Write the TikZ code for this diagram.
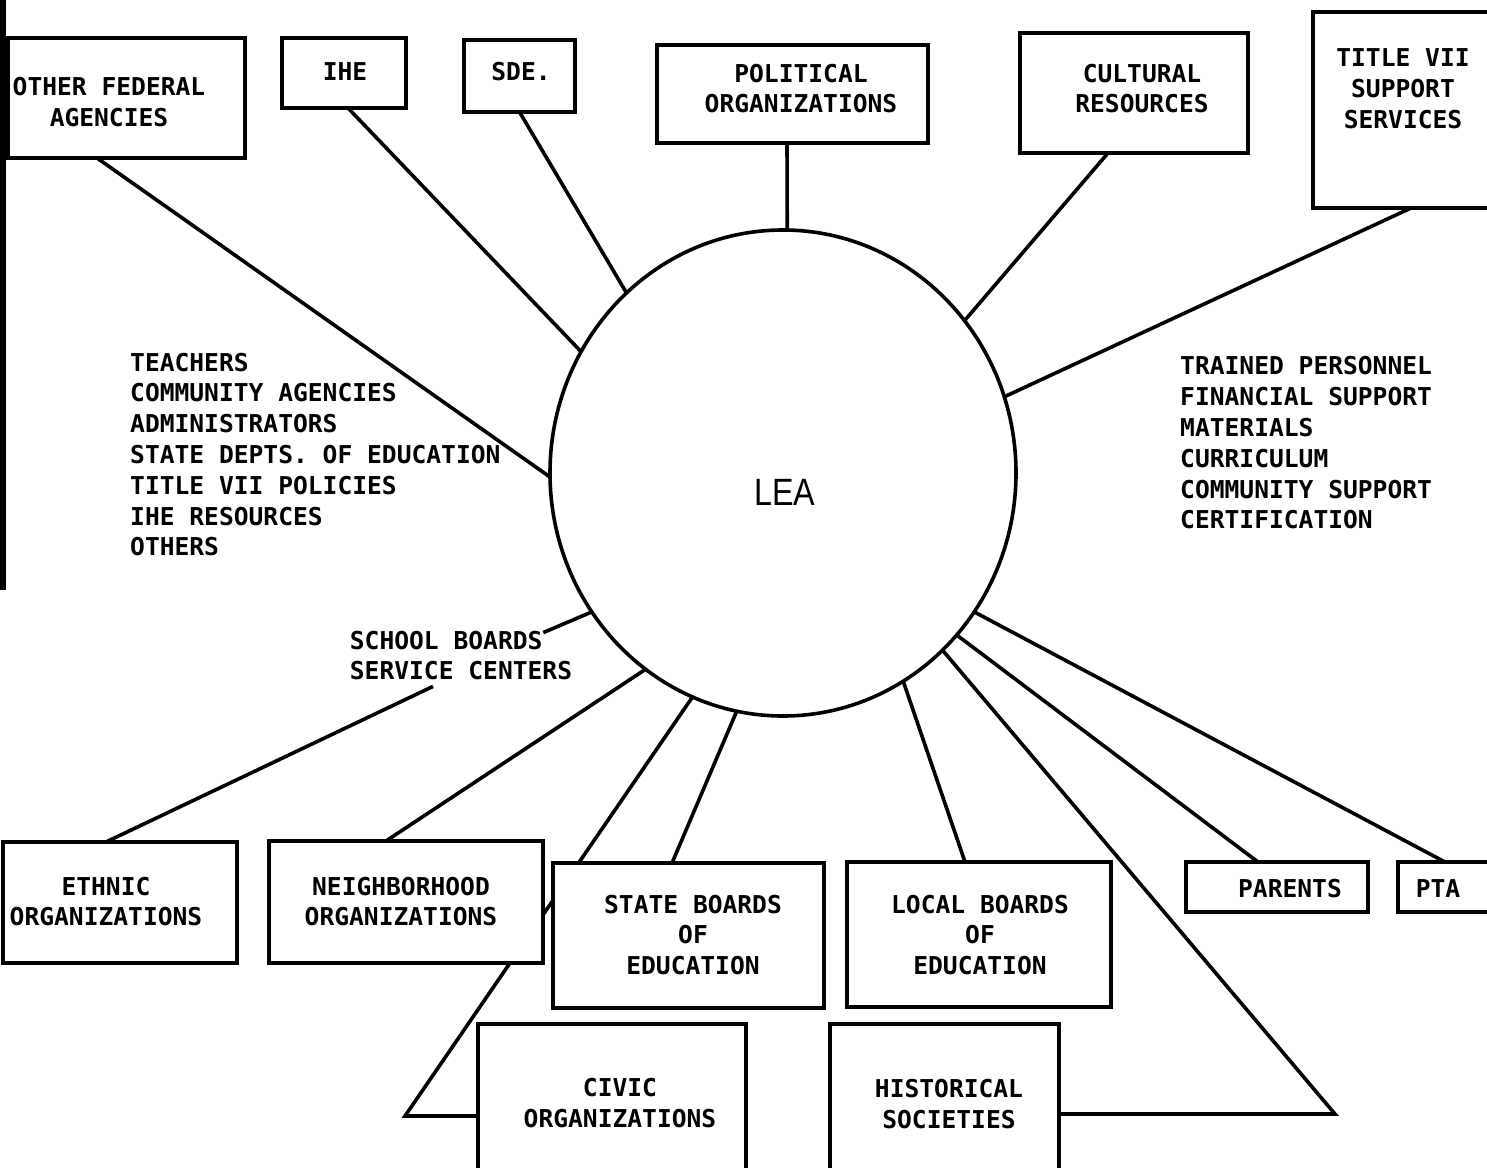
\documentclass[tikz,border=0pt]{standalone}
\usepackage{fontspec}
\usetikzlibrary{shapes.geometric}
\newfontfamily\tw{DejaVu Sans Mono}
\newfontfamily\leafont[FakeStretch=0.85]{Liberation Sans}
\begin{document}
\begin{tikzpicture}[x=1pt,y=-1pt,
  box/.style={draw, line width=3.6pt, fill=white, inner sep=0pt, outer sep=0pt, rectangle},
  conn/.style={line width=3.6pt},
  tt/.style={font=\tw\bfseries\fontsize{24.6}{30.8}\selectfont, inner sep=0pt, align=center, text=black},
  ttl/.style={tt, align=left}]
\useasboundingbox (0,0) rectangle (1487,1167);
\fill[white] (0,0) rectangle (1487,1167);
\clip (0,0) rectangle (1487,1167);
\fill[black] (0,0) rectangle (6,590);

% central ellipse
\node[draw, ellipse, line width=3.6pt, minimum width=466pt, minimum height=486pt, inner sep=0pt, outer sep=0pt] (lea) at (783,473) {};

% boxes
\node[box, minimum width=237pt, minimum height=120pt] (fed) at (126.5,98) {};
\node[box, minimum width=124pt, minimum height=70pt] (ihe) at (344,73) {};
\node[box, minimum width=111pt, minimum height=72pt] (sde) at (519.5,76) {};
\node[box, minimum width=271pt, minimum height=98pt] (pol) at (792.5,94) {};
\node[box, minimum width=228pt, minimum height=120pt] (cul) at (1134,93) {};
\node[box, minimum width=187pt, minimum height=196pt] (t7) at (1406.5,110) {};
\node[box, minimum width=234pt, minimum height=121pt] (eth) at (120,902.5) {};
\node[box, minimum width=274pt, minimum height=122pt] (nbh) at (406,902) {};
\node[box, minimum width=271pt, minimum height=145pt] (stb) at (688.5,935.5) {};
\node[box, minimum width=264pt, minimum height=145pt] (lob) at (979,934.5) {};
\node[box, minimum width=182pt, minimum height=50pt] (par) at (1277,887) {};
\node[box, minimum width=94pt, minimum height=50pt] (pta) at (1445,887) {};
\node[box, minimum width=268pt, minimum height=161pt] (civ) at (612,1104.5) {};
\node[box, minimum width=229pt, minimum height=161pt] (his) at (944.5,1104.5) {};

% free-end coordinates
\coordinate (cv) at (405,1116);
\coordinate (hv) at (1335,1114);

% labels
\node[ttl] (sb) at (461,655.5) {SCHOOL BOARDS\\SERVICE CENTERS};
\node[ttl, anchor=west] (left) at (130,454.5) {TEACHERS\\COMMUNITY AGENCIES\\ADMINISTRATORS\\STATE DEPTS. OF EDUCATION\\TITLE VII POLICIES\\IHE RESOURCES\\OTHERS};
\node[ttl, anchor=west] (right) at (1180,443) {TRAINED PERSONNEL\\FINANCIAL SUPPORT\\MATERIALS\\CURRICULUM\\COMMUNITY SUPPORT\\CERTIFICATION};

% connectors
\draw[conn] ([xshift=-29.5pt]fed.south) -- (lea.181);
\draw[conn] ([xshift=4pt]ihe.south) -- (lea.149.5);
\draw[conn] (sde.south) -- (lea.131.2);
\draw[conn] ([xshift=-5.5pt]pol.south) -- (lea.89);
\draw[conn] ([xshift=-26pt]cul.south) -- (lea.40.9);
\draw[conn] ([xshift=4.5pt]t7.south) -- (lea.19.5);
\draw[conn] ([xshift=-14pt]eth.north) -- ([xshift=-28pt,yshift=-6pt]sb.south);
\draw[conn] ([xshift=-29pt,yshift=-2pt]sb.north east) -- (lea.216);
\draw[conn] ([xshift=-20pt]nbh.north) -- (lea.235);
\draw[conn] (lea.248) -- (cv) -- ([yshift=-11.5pt]civ.west);
\draw[conn] ([xshift=-16.5pt]stb.north) -- (lea.259.8);
\draw[conn] ([xshift=-14pt]lob.north) -- (lea.300.1);
\draw[conn] (lea.312.5) -- (hv) -- ([yshift=-9.5pt]his.east);
\draw[conn] ([xshift=-19pt]par.north) -- (lea.317.6);
\draw[conn] (pta.north) -- (lea.324.1);

% boxes redrawn on top of the connectors
\foreach \n in {fed,ihe,sde,pol,cul,t7,eth,nbh,stb,lob,par,pta,civ,his}{
  \draw[line width=3.6pt, fill=white] (\n.north west) rectangle (\n.south east);
}

% box texts
\node[tt] (fedt) at (109,102) {OTHER FEDERAL\\AGENCIES};
\node[tt] (ihet) at (345,72) {IHE};
\node[tt] (sdet) at (521,72) {SDE.};
\node[tt] (polt) at (801,88.5) {POLITICAL\\ORGANIZATIONS};
\node[tt] (cult) at (1142,88.5) {CULTURAL\\RESOURCES};
\node[tt] (t7t) at (1403,89) {TITLE VII\\SUPPORT\\SERVICES};
\node[tt] (etht) at (106,901.5) {ETHNIC\\ORGANIZATIONS};
\node[tt] (nbht) at (401,901.5) {NEIGHBORHOOD\\ORGANIZATIONS};
\node[tt] (stbt) at (693,935) {STATE BOARDS\\OF\\EDUCATION};
\node[tt] (lobt) at (980,935) {LOCAL BOARDS\\OF\\EDUCATION};
\node[tt] (part) at (1290,889) {PARENTS};
\node[tt] (ptat) at (1438,889) {PTA};
\node[tt] (civt) at (620,1103) {CIVIC\\ORGANIZATIONS};
\node[tt] (hist) at (949,1104) {HISTORICAL\\SOCIETIES};
\node[font=\leafont\fontsize{38}{40}\selectfont, inner sep=0pt] (leat) at (785,492) {LEA};
\end{tikzpicture}
\end{document}
